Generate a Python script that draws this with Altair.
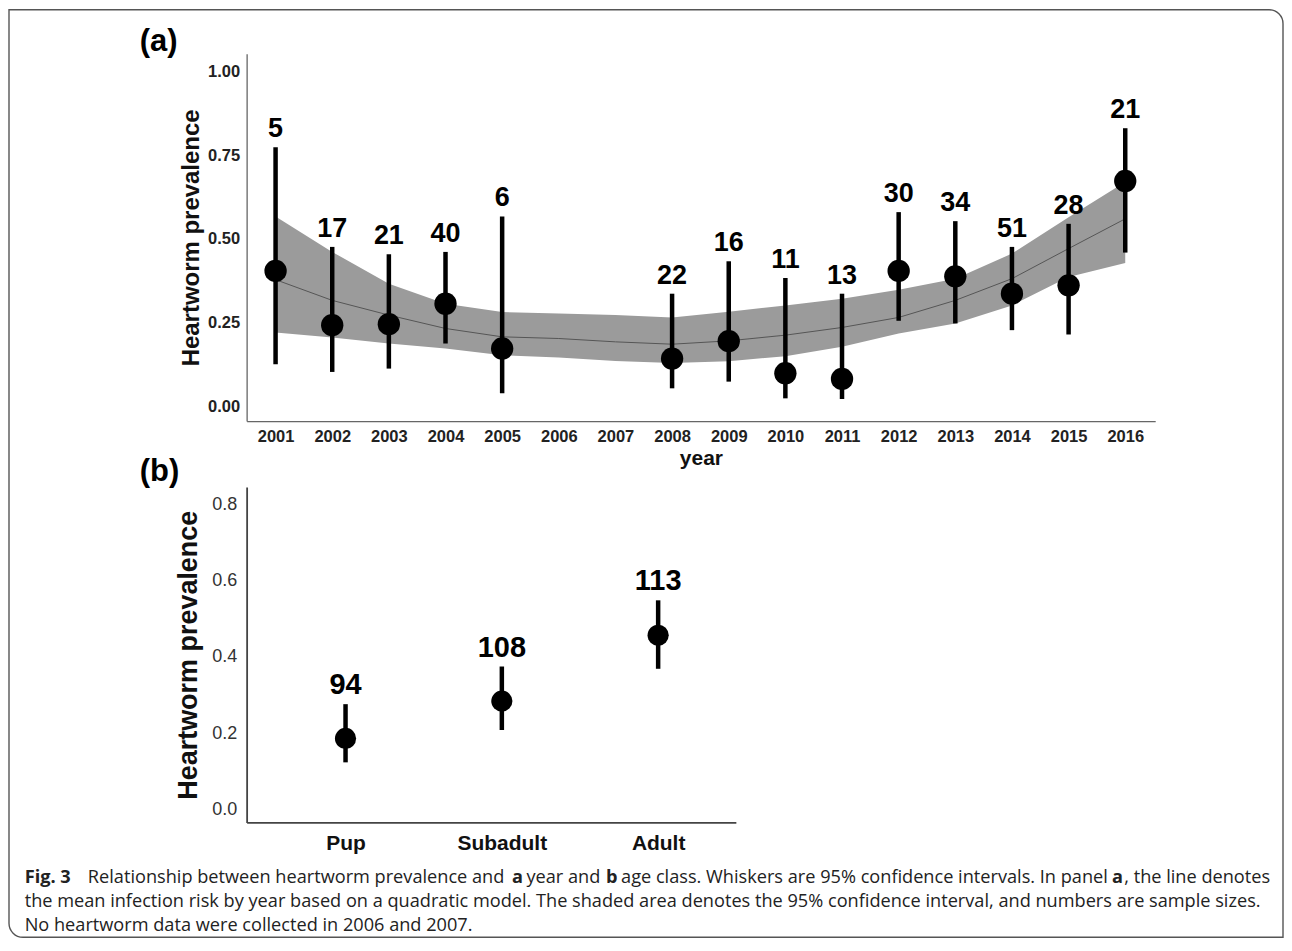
import altair as alt
import pandas as pd

# ---------------- data ----------------
years = [2001, 2002, 2003, 2004, 2005, 2008, 2009, 2010, 2011, 2012, 2013, 2014, 2015, 2016]
prev = [0.404, 0.242, 0.245, 0.306, 0.172, 0.142, 0.194, 0.098, 0.081, 0.404, 0.388, 0.336, 0.361, 0.673]
ci_lo = [0.125, 0.102, 0.112, 0.187, 0.038, 0.053, 0.073, 0.023, 0.021, 0.255, 0.247, 0.227, 0.214, 0.459]
ci_hi = [0.774, 0.476, 0.454, 0.461, 0.567, 0.336, 0.433, 0.383, 0.336, 0.580, 0.553, 0.476, 0.545, 0.831]
sizes = [5, 17, 21, 40, 6, 22, 16, 11, 13, 30, 34, 51, 28, 21]

fit_years = [2001, 2002, 2003, 2004, 2005, 2006, 2007, 2008, 2009, 2010, 2011, 2012, 2013, 2014, 2015, 2016]
fit_mid = [0.378, 0.316, 0.272, 0.232, 0.207, 0.202, 0.192, 0.185, 0.195, 0.212, 0.235, 0.265, 0.316, 0.381, 0.471, 0.560]
fit_hi = [0.567, 0.461, 0.366, 0.306, 0.281, 0.277, 0.272, 0.265, 0.282, 0.301, 0.321, 0.348, 0.381, 0.456, 0.565, 0.670]
fit_lo = [0.220, 0.205, 0.187, 0.172, 0.152, 0.145, 0.135, 0.129, 0.134, 0.149, 0.177, 0.217, 0.247, 0.301, 0.386, 0.428]

age_classes = ["Pup", "Subadult", "Adult"]
age_prev = [0.186, 0.284, 0.457]
age_lo = [0.123, 0.208, 0.369]
age_hi = [0.276, 0.375, 0.549]
age_n = [94, 108, 113]

year_ticks = list(range(2001, 2017))
ya_ticks = [0.0, 0.25, 0.5, 0.75, 1.0]
yb_ticks = [0.0, 0.2, 0.4, 0.6, 0.8]

caption_line1 = [
    ("Fig. 3", "bold", 22.7),
    ("Relationship between heartworm prevalence and", "normal", 86),
    ("a", "bold", 510.7),
    ("year and", "normal", 525.3),
    ("b", "bold", 605),
    ("age class. Whiskers are 95% confidence intervals. In panel", "normal", 620),
    ("a", "bold", 1111.7),
    (", the line denotes", "normal", 1124),
]
caption_line2 = "the mean infection risk by year based on a quadratic model. The shaded area denotes the 95% confidence interval, and numbers are sample sizes."
caption_line3 = "No heartworm data were collected in 2006 and 2007."

FONT = "Liberation Sans"
CAP_FONT = "Open Sans"
CAP_SIZE = 18.2
PLOT_LEFT_ABS = 245

# ---------------- panel (a) ----------------
df_a = pd.DataFrame({"year": years, "p": prev, "lo": ci_lo, "hi": ci_hi,
                     "n": [str(v) for v in sizes]})
df_fit = pd.DataFrame({"year": fit_years, "mid": fit_mid, "lo": fit_lo, "hi": fit_hi})

xa = alt.X("year:Q",
           scale=alt.Scale(domain=[2000.489, 2016.529], nice=False, zero=False),
           axis=alt.Axis(values=year_ticks, format="d", title="year", grid=False,
                         ticks=False, tickSize=0, labelFlush=False,
                         labelFont=FONT, labelFontSize=16.5, labelFontWeight="bold",
                         labelColor="#222", labelPadding=7,
                         titleFont=FONT, titleFontSize=21, titleFontWeight="bold",
                         titleColor="#111", titlePadding=3,
                         domainColor="#666", domainWidth=1.3))
ya_scale = alt.Scale(domain=[-0.045, 1.054], nice=False, zero=False)
ya_axis = alt.Axis(values=ya_ticks, format=".2f", title="Heartworm prevalence", grid=False,
                   ticks=False, tickSize=0, labelFlush=False,
                   labelFont=FONT, labelFontSize=16.5, labelFontWeight="bold",
                   labelColor="#222", labelPadding=7,
                   titleFont=FONT, titleFontSize=24, titleFontWeight="bold",
                   titleColor="#111", titlePadding=4,
                   domainColor="#666", domainWidth=1.3)

band = alt.Chart(df_fit).mark_area(color="#9b9b9b", opacity=1).encode(
    x=xa, y=alt.Y("lo:Q", scale=ya_scale, axis=ya_axis), y2="hi:Q")
fit_line = alt.Chart(df_fit).mark_line(color="#555555", strokeWidth=1).encode(
    x=xa, y=alt.Y("mid:Q", scale=ya_scale, axis=ya_axis))
whisk_a = alt.Chart(df_a).mark_rule(color="black", strokeWidth=4.5).encode(
    x=xa, y=alt.Y("lo:Q", scale=ya_scale, axis=ya_axis), y2="hi:Q")
dots_a = alt.Chart(df_a).mark_circle(color="black", opacity=1, size=500).encode(
    x=xa, y=alt.Y("p:Q", scale=ya_scale, axis=ya_axis))
nlab_a = alt.Chart(df_a).mark_text(font=FONT, fontSize=27, fontWeight="bold", color="black",
                                   baseline="alphabetic", dy=-10).encode(
    x=xa, y=alt.Y("hi:Q", scale=ya_scale, axis=ya_axis), text="n:N")
tag_a = alt.Chart(pd.DataFrame({"t": ["(a)"]})).mark_text(
    font=FONT, fontSize=31, fontWeight="bold", color="black", align="left",
    baseline="alphabetic").encode(x=alt.value(138 - PLOT_LEFT_ABS), y=alt.value(-3), text="t:N")

panel_a = alt.layer(band, fit_line, whisk_a, dots_a, nlab_a, tag_a).properties(width=910, height=368)

# ---------------- panel (b) ----------------
df_b = pd.DataFrame({"age": age_classes, "p": age_prev, "lo": age_lo, "hi": age_hi,
                     "n": [str(v) for v in age_n]})
xb = alt.X("age:N", sort=age_classes,
           scale=alt.Scale(type="point", padding=0.565, align=0.56),
           axis=alt.Axis(title=None, grid=False, ticks=False, tickSize=0, labelAngle=0,
                         labelFont=FONT, labelFontSize=21, labelFontWeight="bold",
                         labelColor="#111", labelPadding=10,
                         domainColor="#444", domainWidth=1.8))
yb_scale = alt.Scale(domain=[-0.035, 0.847], nice=False, zero=False)
yb_axis = alt.Axis(values=yb_ticks, format=".1f", title="Heartworm prevalence", grid=False,
                   ticks=False, tickSize=0, labelFlush=False,
                   labelFont=FONT, labelFontSize=18, labelFontWeight="normal",
                   labelColor="#333", labelPadding=10,
                   titleFont=FONT, titleFontSize=27, titleFontWeight="bold",
                   titleColor="#111", titlePadding=9,
                   domainColor="#444", domainWidth=1.8)

whisk_b = alt.Chart(df_b).mark_rule(color="black", strokeWidth=4.5).encode(
    x=xb, y=alt.Y("lo:Q", scale=yb_scale, axis=yb_axis), y2="hi:Q")
dots_b = alt.Chart(df_b).mark_circle(color="black", opacity=1, size=450).encode(
    x=xb, y=alt.Y("p:Q", scale=yb_scale, axis=yb_axis))
nlab_b = alt.Chart(df_b).mark_text(font=FONT, fontSize=29, fontWeight="bold", color="black",
                                   baseline="alphabetic", dy=-10).encode(
    x=xb, y=alt.Y("hi:Q", scale=yb_scale, axis=yb_axis), text="n:N")
tag_b = alt.Chart(pd.DataFrame({"t": ["(b)"]})).mark_text(
    font=FONT, fontSize=31, fontWeight="bold", color="black", align="left",
    baseline="alphabetic").encode(x=alt.value(138 - PLOT_LEFT_ABS), y=alt.value(-6), text="t:N")

panel_b = alt.layer(whisk_b, dots_b, nlab_b, tag_b).properties(width=490, height=336)

# ---------------- caption + frame ----------------
CAP_TOP_ABS = 889
cap_layers = []
for txt, wt, xabs in caption_line1:
    cap_layers.append(
        alt.Chart(pd.DataFrame({"t": [txt]})).mark_text(
            font=CAP_FONT, fontSize=CAP_SIZE, fontWeight=wt, color="#222", align="left",
            baseline="alphabetic").encode(
            x=alt.value(xabs - PLOT_LEFT_ABS), y=alt.value(884 - CAP_TOP_ABS), text="t:N"))
for txt, yabs in [(caption_line2, 908), (caption_line3, 932)]:
    cap_layers.append(
        alt.Chart(pd.DataFrame({"t": [txt]})).mark_text(
            font=CAP_FONT, fontSize=CAP_SIZE, fontWeight="normal", color="#222", align="left",
            baseline="alphabetic").encode(
            x=alt.value(22.7 - PLOT_LEFT_ABS), y=alt.value(yabs - CAP_TOP_ABS), text="t:N"))
frame = alt.Chart(pd.DataFrame({"t": [""]})).mark_rect(
    filled=False, stroke="#555555", strokeWidth=1.4,
    cornerRadiusTopRight=14, cornerRadiusBottomLeft=14).encode(
    x=alt.value(7 - PLOT_LEFT_ABS), x2=alt.value(1283 - PLOT_LEFT_ABS),
    y=alt.value(9 - CAP_TOP_ABS), y2=alt.value(938 - CAP_TOP_ABS))
caption = alt.layer(frame, *cap_layers).properties(width=900, height=44)

chart = alt.vconcat(panel_a, panel_b, caption, spacing=66, bounds="flush").configure(
    padding=0, background="white"
).configure_view(stroke=None)

chart.save("out.html", embed_options={"renderer": "svg", "actions": False})
